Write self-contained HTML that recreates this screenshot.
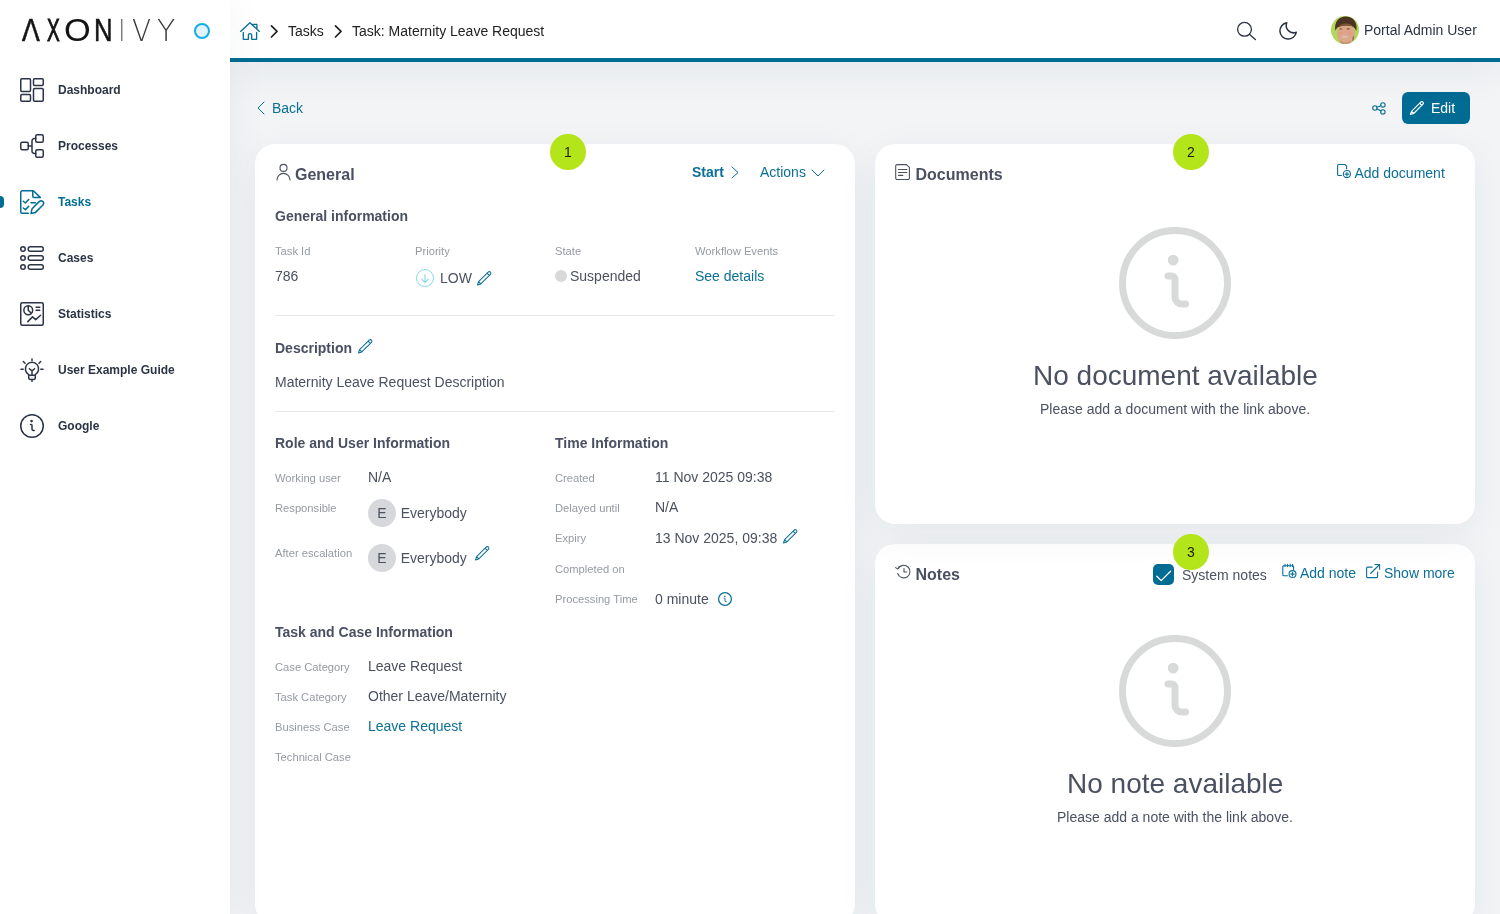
<!DOCTYPE html>
<html lang="en"><head><meta charset="utf-8"><title>Task: Maternity Leave Request</title>
<style>
*{box-sizing:border-box}
html,body{margin:0;padding:0}
html{width:1500px;height:914px;overflow:hidden}
body{width:1500px;height:914px;overflow:hidden;position:relative;background:#f2f4f6;font-family:"Liberation Sans",Arial,sans-serif;font-size:14px;color:#4a5160}
.t{position:absolute;white-space:nowrap;line-height:1;margin:0;padding:0;text-decoration:none;display:block}
.i{position:absolute;display:block;overflow:visible}
.abs{position:absolute}
.logo .w{position:absolute;white-space:nowrap;line-height:1;display:block}
.logo b{display:inline-block;font-weight:inherit;font-style:normal;transform-origin:0 50%;line-height:1;overflow:visible}
aside{position:absolute;left:0;top:0;width:230px;height:914px;background:#fff;box-shadow:0 10px 40px rgba(41,50,65,.06);z-index:3}
header{position:absolute;left:230px;top:0;width:1270px;height:62px;background:#fff;border-bottom:4px solid #006b93;z-index:2;box-shadow:0 10px 40px rgba(41,50,65,.06)}
main{position:absolute;left:230px;top:62px;width:1270px;height:852px;background:#f2f4f6;z-index:1;overflow:hidden}
.card{position:absolute;background:#fff;border-radius:20px;box-shadow:0 10px 40px rgba(41,50,65,.06)}
.badge{position:absolute;width:36px;height:36px;border-radius:50%;background:#b4e51a;color:#1c1c1c;font-size:14px;line-height:36px;text-align:center}
.hr{position:absolute;height:1px;background:#e6e8eb}
.av{position:absolute;width:28px;height:28px;border-radius:50%;background:#d7d8dc;color:#4a5160;font-size:14px;line-height:28px;text-align:center}
</style></head><body>

<aside>
<div class="abs" style="left:0;top:0;width:230px;height:62px">
<a class="logo" title="AXON IVY"><span class="w" style="left:22.25px;top:13.71px;font-size:32.0px;font-weight:400;font-family:'Liberation Sans',Arial,sans-serif"><b style="width:25.01px;transform:scaleX(0.830);color:#141414;-webkit-text-stroke:0.60px #141414;">A</b><b style="width:17.13px;transform:scaleX(0.597);color:#141414;-webkit-text-stroke:1.01px #141414;">X</b><b style="width:29.70px;transform:scaleX(1.071);color:#141414;">O</b><b style="width:30.00px;transform:scaleX(0.805);color:#141414;-webkit-text-stroke:0.50px #141414;">N</b></span><span class="w" style="left:118.42px;top:16.34px;font-size:30.2px;font-weight:200;font-family:'DejaVu Sans Light','DejaVu Sans',sans-serif"><b style="width:13.45px;transform:scaleX(0.844);color:#6e6e6e;">I</b><b style="width:25.45px;transform:scaleX(0.922);color:#3a3a3a;">V</b><b style="width:30.00px;transform:scaleX(0.986);color:#3a3a3a;">Y</b></span></a>
<span class="abs" style="left:26.5px;top:31.2px;width:9px;height:4px;background:#fff;clip-path:polygon(1.4px 0,7.3px 0,8.6px 4px,0.3px 4px)"></span>
<span class="abs" style="left:194px;top:22.7px;width:16px;height:16px;border-radius:50%;border:2px solid #14aee6;background:#e4f3fb"></span>
</div>
<nav>
<svg class="i" style="left:20px;top:78px" width="24" height="24" viewBox="0 0 24 24" fill="none" stroke="#2b3445" stroke-width="1.5" stroke-linecap="round" stroke-linejoin="round" color="#2b3445"><rect x="0.75" y="0.75" width="9.75" height="12.75" rx="1.2"/><rect x="13.5" y="0.75" width="9.75" height="6.75" rx="1.2"/><rect x="0.75" y="16.5" width="9.75" height="6.75" rx="1.2"/><rect x="13.5" y="10.5" width="9.75" height="12.75" rx="1.2"/></svg>
<a class="t" style="left:58px;top:84px;font-size:12px;color:#2b3445;font-weight:700;">Dashboard</a>
<svg class="i" style="left:20px;top:134px" width="24" height="24" viewBox="0 0 24 24" fill="none" stroke="#2b3445" stroke-width="1.5" stroke-linecap="round" stroke-linejoin="round" color="#2b3445"><rect x="0.75" y="8.25" width="7.5" height="7.5" rx="1.5"/><rect x="15.75" y="0.75" width="7.5" height="7.5" rx="1.5"/><rect x="15.75" y="15.75" width="7.5" height="7.5" rx="1.5"/><path d="M8.25 12h3.75M15.75 4.5h-1.5a2.25 2.25 0 0 0-2.25 2.25v10.5a2.25 2.25 0 0 0 2.25 2.25h1.5"/></svg>
<a class="t" style="left:58px;top:140px;font-size:12px;color:#2b3445;font-weight:700;">Processes</a>
<span class="abs" style="left:0;top:196px;width:4px;height:12px;background:#006d94;border-radius:0 4px 4px 0"></span>
<svg class="i" style="left:20px;top:190px" width="24" height="24" viewBox="0 0 24 24" fill="none" stroke="#006d94" stroke-width="1.5" stroke-linecap="round" stroke-linejoin="round" color="#006d94"><path d="M8.25 23.25h-6a1.5 1.5 0 0 1-1.5-1.5V2.25a1.5 1.5 0 0 1 1.5-1.5h10.6a1.5 1.5 0 0 1 1.06.44L20.200 7.400"/><path d="M12.75 1v5a1.500 1.500 0 0 0 1.500 1.500h5.900"/><path d="M3.300 11.200l2.100 1.800 3.300-3.500M3.300 18l2.100 1.700 3.300-3.500M10.900 12.650h4.500"/><path d="M19.400 11.400A2.550 2.550 0 0 1 23.200 14.700L15.500 22.400l-4.500 1 1.100-4.700z"/></svg>
<a class="t" style="left:58px;top:196px;font-size:12px;color:#006d94;font-weight:700;">Tasks</a>
<svg class="i" style="left:20px;top:246px" width="24" height="24" viewBox="0 0 24 24" fill="none" stroke="#2b3445" stroke-width="1.5" stroke-linecap="round" stroke-linejoin="round" color="#2b3445"><circle cx="3" cy="3" r="2.25"/><circle cx="3" cy="12" r="2.25"/><circle cx="3" cy="21" r="2.25"/><rect x="8.25" y="0.75" width="15" height="4.5" rx="2"/><rect x="8.25" y="9.75" width="15" height="4.5" rx="2"/><rect x="8.25" y="18.75" width="15" height="4.5" rx="2"/></svg>
<a class="t" style="left:58px;top:252px;font-size:12px;color:#2b3445;font-weight:700;">Cases</a>
<svg class="i" style="left:20px;top:302px" width="24" height="24" viewBox="0 0 24 24" fill="none" stroke="#2b3445" stroke-width="1.5" stroke-linecap="round" stroke-linejoin="round" color="#2b3445"><rect x="0.75" y="0.75" width="22.5" height="22.5" rx="1.5"/><circle cx="8.25" cy="8.25" r="4.4"/><path d="M8.25 3.9v4.35l3 3M16.1 5.35h3.7M16.1 8.25h3.7M7.8 19.6l4.7-4.7 3.2 2.7 4.9-4.3"/></svg>
<a class="t" style="left:58px;top:308px;font-size:12px;color:#2b3445;font-weight:700;">Statistics</a>
<svg class="i" style="left:20px;top:358px" width="24" height="24" viewBox="0 0 24 24" fill="none" stroke="#2b3445" stroke-width="1.5" stroke-linecap="round" stroke-linejoin="round" color="#2b3445"><path d="M12 0.9v1.5M1 11.25h2.200M20.800 11.25h2.200M3.300 3.500l1.700 1.700M20.700 3.500L19 5.200M12 21.600v1.600M12 17.250v-4.400M12 12.850l-2.600-2.100M12 12.850l2.600-2.100"/><path d="M8.700 16.600A6.600 6.600 0 1 1 15.300 16.600v3a2 2 0 0 1-2 2h-2.600a2 2 0 0 1-2-2zM8.700 17.300h6.600"/></svg>
<a class="t" style="left:58px;top:364px;font-size:12px;color:#2b3445;font-weight:700;">User Example Guide</a>
<svg class="i" style="left:20px;top:414px" width="24" height="24" viewBox="0 0 24 24" fill="none" stroke="#2b3445" stroke-width="1.5" stroke-linecap="round" stroke-linejoin="round" color="#2b3445"><circle cx="12" cy="12" r="11.25"/><path d="M14.25 16.5h-.75a1.5 1.5 0 0 1-1.5-1.5v-3.75a.75.75 0 0 0-.75-.75h-.75"/><circle cx="11.6" cy="7.1" r="0.55" fill="currentColor"/></svg>
<a class="t" style="left:58px;top:420px;font-size:12px;color:#2b3445;font-weight:700;">Google</a>
</nav>
</aside>
<header>
<svg class="i" style="left:10px;top:21px" width="20" height="20" viewBox="240 21 20 20" fill="none" stroke="#0b7095" stroke-width="1.35" stroke-linecap="round" stroke-linejoin="round" ><path d="M240.600 31.400L249.900 22.700L259.400 31.400M243.300 32.400V39.300H248.400V35.200a1.650 1.650 0 0 1 3.300 0V39.300H256.600V32.400M252.900 24.400H256.900V28.200"/></svg>
<svg class="i" style="left:40px;top:25.2px" width="8.5" height="12.8" viewBox="0 0 9 16" fill="none" stroke="#222" stroke-width="2.1" stroke-linecap="round" stroke-linejoin="round" ><path d="M1 1l7 7-7 7"/></svg>
<a class="t" style="left:58px;top:24px;font-size:14px;color:#222;font-weight:400;">Tasks</a>
<svg class="i" style="left:104px;top:25.2px" width="8.5" height="12.8" viewBox="0 0 9 16" fill="none" stroke="#222" stroke-width="2.1" stroke-linecap="round" stroke-linejoin="round" ><path d="M1 1l7 7-7 7"/></svg>
<span class="t" style="left:122px;top:24px;font-size:14px;color:#222;font-weight:400;">Task: Maternity Leave Request</span>
<svg class="i" style="left:1004px;top:18px" width="24" height="24" viewBox="0 0 24 24" fill="none" stroke="#2b3445" stroke-width="1.3" stroke-linecap="round"><circle cx="10.5" cy="11.3" r="6.9"/><path d="M15.6 16.4l5.8 5.2"/></svg>
<svg class="i" style="left:1046px;top:19px" width="24" height="24" viewBox="1276 19 24 24" fill="none" stroke="#2b3445" stroke-width="1.5" stroke-linejoin="round"><path d="M1286.800 22.700A8.250 8.250 0 1 0 1296.300 32.200A7.250 7.250 0 0 1 1286.800 22.700Z"/></svg>
<svg class="i" style="left:1101px;top:16px" width="28" height="28" viewBox="0 0 28 28"><defs><clipPath id="avc"><circle cx="14" cy="14" r="14"/></clipPath><filter id="avb" x="-10%" y="-10%" width="120%" height="120%"><feGaussianBlur stdDeviation="0.55"/></filter></defs><g clip-path="url(#avc)"><rect width="28" height="28" fill="#b1d75c"/><g filter="url(#avb)"><ellipse cx="15" cy="18" rx="9" ry="10.5" fill="#dca688"/><path d="M22 19.500c.8.500 1 2.500.3 4.500l-1 1z" fill="#5a4030" opacity=".8"/><path d="M4.300 14.800C2.800 5 9 .3 15 .6c7 .2 12 5.400 10.300 14.600-1.300-3.600-3.300-5.600-7.300-5.500-5-.5-9 .3-11.500 1.800-1 1-1.500 2-2.200 3.300z" fill="#4b3424"/><path d="M7 11.500c3-1.800 7-2.300 11-1.800 2 0 3.500.5 4.800 1.800-1.500-3.500-5-4.500-9-4-3.500.3-6 1.800-6.800 4z" fill="#7a5536"/><ellipse cx="9.900" cy="13" rx="1.700" ry=".8" fill="#6e4c3c" opacity=".75"/><ellipse cx="17.200" cy="12.900" rx="1.700" ry=".8" fill="#6e4c3c" opacity=".75"/><ellipse cx="10" cy="17" rx="2.200" ry="1.600" fill="#e39a85" opacity=".6"/><ellipse cx="18.500" cy="16.800" rx="2.200" ry="1.600" fill="#e39a85" opacity=".6"/><ellipse cx="13.900" cy="20.700" rx="3.300" ry="1.250" fill="#dcb9b0"/><path d="M9 24.500q5 4 11 0l-1 4h-9z" fill="#c48f70"/></g></g></svg>
<span class="t" style="left:1134px;top:23px;font-size:14px;color:#2b3445;font-weight:400;">Portal Admin User</span>
</header>
<main>
<svg class="i" style="left:27px;top:39px" width="8" height="14" viewBox="0 0 8 14" fill="none" stroke="#0b6f96" stroke-width="1.0" stroke-linecap="round" stroke-linejoin="round" ><path d="M7 1L1 7l6 6"/></svg>
<a class="t" style="left:42px;top:39px;font-size:14px;color:#0b6f96;font-weight:400;">Back</a>
<svg class="i" style="left:1142px;top:39.5px" width="14" height="13" viewBox="0 0 14 13" fill="none" stroke="#0b6f96" stroke-width="1.1" stroke-linecap="round" stroke-linejoin="round" ><circle cx="2.9" cy="6" r="2.2"/><circle cx="10.900" cy="2.900" r="2.200"/><circle cx="10.900" cy="9.900" r="2.200"/><path d="M4.900 5.200l4-1.500M4.900 6.800l4 2.300"/></svg>
<a class="abs" style="left:1172px;top:30px;width:68px;height:32px;background:#006b93;border-radius:6px"></a>
<svg class="i" style="left:1180px;top:39px" width="14" height="14" viewBox="0 0 24 24" fill="none" stroke="#fff" stroke-width="2.0" stroke-linecap="round" stroke-linejoin="round" ><path d="M22.2 1.8a2.6 2.6 0 0 0-3.7 0L2.6 17.7.8 23.2l5.5-1.8L22.2 5.5a2.6 2.6 0 0 0 0-3.7zM16.6 3.7l3.7 3.7M2.6 17.7l3.7 3.7"/></svg>
<span class="t" style="left:1201px;top:39px;font-size:14px;color:#fff;font-weight:400;">Edit</span>
<section class="card" style="left:25px;top:82px;width:600px;height:780px"></section>
<section class="card" style="left:645px;top:482px;width:600px;height:380px"></section>
<section class="card" style="left:645px;top:82px;width:600px;height:380px"></section>
<svg class="i" style="left:45.5px;top:102px" width="15" height="16.5" viewBox="0 0 15 16.500" fill="none" stroke="#4a5160" stroke-width="1.1" stroke-linecap="round" stroke-linejoin="round" ><circle cx="7.5" cy="3.9" r="3.5"/><path d="M0.95 15.9A6.55 6.55 0 0 1 14.05 15.9"/></svg>
<h2 class="t" style="left:65px;top:105px;font-size:16px;color:#495061;font-weight:700;">General</h2>
<a class="t" style="left:462px;top:103px;font-size:14px;color:#0b6f96;font-weight:700;">Start</a>
<svg class="i" style="left:501px;top:103.5px" width="8" height="13" viewBox="0 0 8 13" fill="none" stroke="#0b6f96" stroke-width="1.0" stroke-linecap="round" stroke-linejoin="round" ><path d="M1 1l6 5.500-6 5.500"/></svg>
<a class="t" style="left:530px;top:103px;font-size:14px;color:#0b6f96;font-weight:400;">Actions</a>
<svg class="i" style="left:581px;top:106.5px" width="14" height="8" viewBox="0 0 14 8" fill="none" stroke="#0b6f96" stroke-width="1.0" stroke-linecap="round" stroke-linejoin="round" ><path d="M1 1l6 6 6-6"/></svg>
<h3 class="t" style="left:45px;top:147px;font-size:14px;color:#495061;font-weight:700;">General information</h3>
<span class="t" style="left:45px;top:184px;font-size:11.2px;color:#959aa3;font-weight:400;">Task Id</span>
<span class="t" style="left:185px;top:184px;font-size:11.2px;color:#959aa3;font-weight:400;">Priority</span>
<span class="t" style="left:325px;top:184px;font-size:11.2px;color:#959aa3;font-weight:400;">State</span>
<span class="t" style="left:465px;top:184px;font-size:11.2px;color:#959aa3;font-weight:400;">Workflow Events</span>
<span class="t" style="left:45px;top:207px;font-size:14px;color:#4a5160;font-weight:400;">786</span>
<span class="abs" style="left:185.7px;top:207px;width:18.4px;height:18.4px;border-radius:50%;border:1.4px solid #8bdaea"></span>
<svg class="i" style="left:190.5px;top:211.5px" width="8" height="9" viewBox="0 0 8 9" fill="none" stroke="#8bdaea" stroke-width="1.2" stroke-linecap="round" stroke-linejoin="round" ><path d="M4 0.600v8M0.700 5.200l3.300 3.400 3.300-3.400"/></svg>
<span class="t" style="left:210px;top:209px;font-size:14px;color:#4a5160;font-weight:400;">LOW</span>
<svg class="i" style="left:246.5px;top:208.5px" width="14.5" height="14.5" viewBox="0 0 24 24" fill="none" stroke="#0b6f96" stroke-width="1.7" stroke-linecap="round" stroke-linejoin="round" ><path d="M22.2 1.8a2.6 2.6 0 0 0-3.7 0L2.6 17.7.8 23.2l5.5-1.8L22.2 5.5a2.6 2.6 0 0 0 0-3.7zM16.6 3.7l3.7 3.7M2.6 17.7l3.7 3.7"/></svg>
<span class="abs" style="left:325px;top:208px;width:12px;height:12px;border-radius:50%;background:#d9d9d9"></span>
<span class="t" style="left:340px;top:207px;font-size:14px;color:#4a5160;font-weight:400;">Suspended</span>
<a class="t" style="left:465px;top:207px;font-size:14px;color:#0b6f96;font-weight:400;">See details</a>
<div class="hr" style="left:45px;top:253px;width:560px"></div>
<h3 class="t" style="left:45px;top:279px;font-size:14px;color:#495061;font-weight:700;">Description</h3>
<svg class="i" style="left:128px;top:276.5px" width="14.5" height="14.5" viewBox="0 0 24 24" fill="none" stroke="#0b6f96" stroke-width="1.7" stroke-linecap="round" stroke-linejoin="round" ><path d="M22.2 1.8a2.6 2.6 0 0 0-3.7 0L2.6 17.7.8 23.2l5.5-1.8L22.2 5.5a2.6 2.6 0 0 0 0-3.7zM16.6 3.7l3.7 3.7M2.6 17.7l3.7 3.7"/></svg>
<span class="t" style="left:45px;top:313px;font-size:14px;color:#4a5160;font-weight:400;">Maternity Leave Request Description</span>
<div class="hr" style="left:45px;top:349px;width:560px"></div>
<h3 class="t" style="left:45px;top:374px;font-size:14px;color:#495061;font-weight:700;">Role and User Information</h3>
<span class="t" style="left:45px;top:411px;font-size:11.2px;color:#959aa3;font-weight:400;">Working user</span>
<span class="t" style="left:138px;top:408px;font-size:14px;color:#4a5160;font-weight:400;">N/A</span>
<span class="t" style="left:45px;top:441px;font-size:11.2px;color:#959aa3;font-weight:400;">Responsible</span>
<span class="av" style="left:138px;top:437px">E</span>
<span class="t" style="left:170.7px;top:444px;font-size:14px;color:#4a5160;font-weight:400;">Everybody</span>
<span class="t" style="left:45px;top:486px;font-size:11.2px;color:#959aa3;font-weight:400;">After escalation</span>
<span class="av" style="left:138px;top:482px">E</span>
<span class="t" style="left:170.7px;top:489px;font-size:14px;color:#4a5160;font-weight:400;">Everybody</span>
<svg class="i" style="left:245px;top:483.5px" width="14.5" height="14.5" viewBox="0 0 24 24" fill="none" stroke="#0b6f96" stroke-width="1.7" stroke-linecap="round" stroke-linejoin="round" ><path d="M22.2 1.8a2.6 2.6 0 0 0-3.7 0L2.6 17.7.8 23.2l5.5-1.8L22.2 5.5a2.6 2.6 0 0 0 0-3.7zM16.6 3.7l3.7 3.7M2.6 17.7l3.7 3.7"/></svg>
<h3 class="t" style="left:325px;top:374px;font-size:14px;color:#495061;font-weight:700;">Time Information</h3>
<span class="t" style="left:325px;top:411px;font-size:11.2px;color:#959aa3;font-weight:400;">Created</span>
<span class="t" style="left:425px;top:408px;font-size:14px;color:#4a5160;font-weight:400;">11 Nov 2025 09:38</span>
<span class="t" style="left:325px;top:441px;font-size:11.2px;color:#959aa3;font-weight:400;">Delayed until</span>
<span class="t" style="left:425px;top:438px;font-size:14px;color:#4a5160;font-weight:400;">N/A</span>
<span class="t" style="left:325px;top:471px;font-size:11.2px;color:#959aa3;font-weight:400;">Expiry</span>
<span class="t" style="left:425px;top:469px;font-size:14px;color:#4a5160;font-weight:400;">13 Nov 2025, 09:38</span>
<svg class="i" style="left:552.5px;top:466.70000000000005px" width="14.5" height="14.5" viewBox="0 0 24 24" fill="none" stroke="#0b6f96" stroke-width="1.7" stroke-linecap="round" stroke-linejoin="round" ><path d="M22.2 1.8a2.6 2.6 0 0 0-3.7 0L2.6 17.7.8 23.2l5.5-1.8L22.2 5.5a2.6 2.6 0 0 0 0-3.7zM16.6 3.7l3.7 3.7M2.6 17.7l3.7 3.7"/></svg>
<span class="t" style="left:325px;top:502px;font-size:11.2px;color:#959aa3;font-weight:400;">Completed on</span>
<span class="t" style="left:325px;top:532px;font-size:11.2px;color:#959aa3;font-weight:400;">Processing Time</span>
<span class="t" style="left:425px;top:530px;font-size:14px;color:#4a5160;font-weight:400;">0 minute</span>
<svg class="i" style="left:488px;top:530px" width="14" height="14" viewBox="0 0 24 24" fill="none" stroke="#0b6f96" stroke-width="2.0" stroke-linecap="round" stroke-linejoin="round" ><circle cx="12" cy="12" r="11" stroke-width="2.1"/><path d="M14.250 16.500h-.750a1.500 1.500 0 0 1-1.500-1.500v-3.750a.750.750 0 0 0-.750-.750h-.750" stroke-width="1.700"/><circle cx="11.600" cy="7.200" r="0.300" stroke-width="1.500"/></svg>
<h3 class="t" style="left:45px;top:563px;font-size:14px;color:#495061;font-weight:700;">Task and Case Information</h3>
<span class="t" style="left:45px;top:600px;font-size:11.2px;color:#959aa3;font-weight:400;">Case Category</span>
<span class="t" style="left:138px;top:597px;font-size:14px;color:#4a5160;font-weight:400;">Leave Request</span>
<span class="t" style="left:45px;top:630px;font-size:11.2px;color:#959aa3;font-weight:400;">Task Category</span>
<span class="t" style="left:138px;top:627px;font-size:14px;color:#4a5160;font-weight:400;">Other Leave/Maternity</span>
<span class="t" style="left:45px;top:660px;font-size:11.2px;color:#959aa3;font-weight:400;">Business Case</span>
<a class="t" style="left:138px;top:657px;font-size:14px;color:#0b6f96;font-weight:400;">Leave Request</a>
<span class="t" style="left:45px;top:690px;font-size:11.2px;color:#959aa3;font-weight:400;">Technical Case</span>
<svg class="i" style="left:665px;top:102px" width="15" height="16" viewBox="0 0 15 16" fill="none" stroke="#4a5160" stroke-width="1.1" stroke-linecap="round" stroke-linejoin="round" ><path d="M2.100 0.600h9.300l3 2.800v10.700a1.400 1.400 0 0 1-1.400 1.400h-10.900a1.400 1.400 0 0 1-1.400-1.400v-12.100a1.400 1.400 0 0 1 1.400-1.400z"/><path d="M3.500 5.500h8.300M3.500 8.500h8.300M3.500 11.400h4.300"/></svg>
<h2 class="t" style="left:685.5px;top:105px;font-size:16px;color:#495061;font-weight:700;">Documents</h2>
<svg class="i" style="left:1107px;top:102px" width="15" height="15" viewBox="0 0 15 15" fill="none" stroke="#0b6f96" stroke-width="1.1" stroke-linecap="round" stroke-linejoin="round" ><path d="M4.500 11.500h-2.900a1 1 0 0 1-1-1V1.500a1 1 0 0 1 1-1h6.300l1.700 1.700v2.500"/><circle cx="9.900" cy="10.100" r="3.550"/><path d="M9.900 8.300v3.600M8.100 10.100h3.600"/></svg>
<a class="t" style="left:1124.5px;top:104px;font-size:14px;color:#0b6f96;font-weight:400;">Add document</a>
<svg class="i" style="left:889px;top:165px" width="112" height="112" viewBox="0 0 24 24" fill="none" stroke="#d8dad9" stroke-width="1.5" stroke-linecap="round" stroke-linejoin="round" ><circle cx="12" cy="12" r="11.25"/><path d="M14.25 16.5h-.75a1.500 1.500 0 0 1-1.500-1.500v-3.750a.75.750 0 0 0-.75-.75h-.750"/><circle cx="11.600" cy="7.100" r="0.400" fill="#d8dad9"/></svg>
<h1 class="t" style="left:803px;top:300px;font-size:28px;color:#4a5160;font-weight:400;">No document available</h1>
<span class="t" style="left:810px;top:340px;font-size:14px;color:#4a5160;font-weight:400;">Please add a document with the link above.</span>
<svg class="i" style="left:665px;top:502px" width="16" height="15" viewBox="0 0 16 15" fill="none" stroke="#4a5160" stroke-width="1.1" stroke-linecap="round" stroke-linejoin="round" ><path d="M3.200 4.500A6.300 6.300 0 1 1 2.700 9.500M0.600 3.600l2.300 1.400 1.200-2.400M9 4.500v3.500h2.800"/></svg>
<h2 class="t" style="left:685.5px;top:505px;font-size:16px;color:#495061;font-weight:700;">Notes</h2>
<span class="abs" style="left:923px;top:502px;width:21px;height:21px;border-radius:5px;background:#006b93"></span>
<svg class="i" style="left:926px;top:508px" width="15" height="12" viewBox="0 0 15 12" fill="none" stroke="#fff" stroke-width="1.3" stroke-linecap="round" stroke-linejoin="round" ><path d="M0.800 6.300l4.400 4.300L14.600 1.200"/></svg>
<span class="t" style="left:952px;top:506px;font-size:14px;color:#4a5160;font-weight:400;">System notes</span>
<svg class="i" style="left:1052px;top:502px" width="15" height="15" viewBox="0 0 15 15" fill="none" stroke="#0b6f96" stroke-width="1.1" stroke-linecap="round" stroke-linejoin="round" ><path d="M5.500 11.700h-3.700a1 1 0 0 1-1-1V2.700a1 1 0 0 1 1-1h8.800a1 1 0 0 1 1 1v2.800M3 0.300v2.300M5.600 0.300v2.300M8.200 0.300v2.300M10.600 0.300v2.300"/><circle cx="10.500" cy="10.100" r="3.450"/><path d="M10.500 8.400v3.400M8.800 10.100h3.400"/></svg>
<a class="t" style="left:1070px;top:504px;font-size:14px;color:#0b6f96;font-weight:400;">Add note</a>
<svg class="i" style="left:1136px;top:502px" width="14" height="14" viewBox="0 0 14 14" fill="none" stroke="#0b6f96" stroke-width="1.1" stroke-linecap="round" stroke-linejoin="round" ><path d="M11.600 8v4.600a1 1 0 0 1-1 1H1.600a1 1 0 0 1-1-1V4.100a1 1 0 0 1 1-1h4.600M8.900 0.500h4.700v4.700M13.600 0.500L4.600 9.500"/></svg>
<a class="t" style="left:1154px;top:504px;font-size:14px;color:#0b6f96;font-weight:400;">Show more</a>
<svg class="i" style="left:889px;top:573px" width="112" height="112" viewBox="0 0 24 24" fill="none" stroke="#d8dad9" stroke-width="1.5" stroke-linecap="round" stroke-linejoin="round" ><circle cx="12" cy="12" r="11.25"/><path d="M14.25 16.5h-.75a1.500 1.500 0 0 1-1.500-1.500v-3.750a.75.750 0 0 0-.75-.75h-.750"/><circle cx="11.600" cy="7.100" r="0.400" fill="#d8dad9"/></svg>
<h1 class="t" style="left:837px;top:708px;font-size:28px;color:#4a5160;font-weight:400;">No note available</h1>
<span class="t" style="left:827px;top:748px;font-size:14px;color:#4a5160;font-weight:400;">Please add a note with the link above.</span>
<span class="badge" style="left:320px;top:72px">1</span>
<span class="badge" style="left:943px;top:72px">2</span>
<span class="badge" style="left:943px;top:472px">3</span>
</main>
</body></html>
